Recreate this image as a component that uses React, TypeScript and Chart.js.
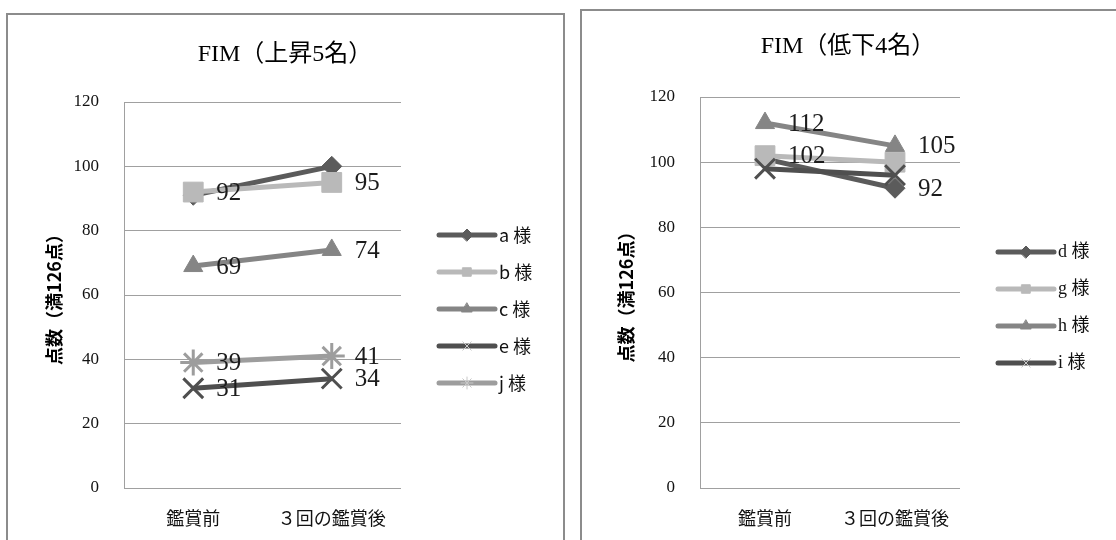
import React, { useEffect, useRef } from 'react';
import { Chart, registerables } from 'chart.js';
import { drawPoint } from 'chart.js/helpers';

Chart.register(...registerables);

// ---- data ----
const categories = ['鑑賞前', '３回の鑑賞後'];
const yTickValues = [0, 20, 40, 60, 80, 100, 120];
const yAxisTitle = '点数（満126点）';

// FIM（上昇5名）
const riseTitle = 'FIM（上昇5名）';
const riseNames = ['a 様', 'b 様', 'c 様', 'e 様', 'j 様'];
const riseA = [91, 100];
const riseB = [92, 95];
const riseC = [69, 74];
const riseE = [31, 34];
const riseJ = [39, 41];
// which points carry a value label
const riseShowA = [false, false];
const riseShowB = [true, true];
const riseShowC = [true, true];
const riseShowE = [true, true];
const riseShowJ = [true, true];

// FIM（低下4名）
const fallTitle = 'FIM（低下4名）';
const fallNames = ['d 様', 'g 様', 'h 様', 'i 様'];
const fallD = [101, 92];
const fallG = [102, 100];
const fallH = [112, 105];
const fallI = [98, 96];
const fallShowD = [false, true];
const fallShowG = [true, false];
const fallShowH = [true, true];
const fallShowI = [false, false];

// ---- series styles ----
type SeriesStyle = { color: string; marker: string; radius: number; markerWidth: number };
const diamond: SeriesStyle = { color: '#5b5b5b', marker: 'rectRot', radius: 10, markerWidth: 1 };
const square: SeriesStyle = { color: '#b9b9b9', marker: 'rect', radius: 14, markerWidth: 1 };
const triangle: SeriesStyle = { color: '#858585', marker: 'triangle', radius: 11, markerWidth: 1 };
const cross: SeriesStyle = { color: '#4f4f4f', marker: 'crossRot', radius: 14, markerWidth: 3 };
const star: SeriesStyle = { color: '#9d9d9d', marker: 'star', radius: 13, markerWidth: 3 };

const serif = '"Liberation Serif", "Noto Sans CJK JP"';
const gothic = '"Noto Sans CJK JP", "Noto Sans"';

// Value labels drawn to the right of each flagged point
const pointValueLabels = {
  id: 'pointValueLabels',
  afterDatasetsDraw(chart: any, _args: any, opts: any) {
    const { ctx } = chart;
    ctx.save();
    ctx.font = `${opts.size}px ${serif}`;
    ctx.fillStyle = opts.color;
    ctx.textAlign = 'left';
    ctx.textBaseline = 'middle';
    chart.data.datasets.forEach((ds: any, i: number) => {
      const meta = chart.getDatasetMeta(i);
      const flags: boolean[] = ds.showValue || [];
      meta.data.forEach((pt: any, j: number) => {
        if (!flags[j]) return;
        ctx.fillText(String(ds.data[j]), pt.x + opts.offset, pt.y + 1);
      });
    });
    ctx.restore();
  },
};

// Legend with a line sample and marker, placed to the right of the plot
const lineLegend = {
  id: 'lineLegend',
  afterDraw(chart: any, _args: any, opts: any) {
    const { ctx, chartArea } = chart;
    chart.data.datasets.forEach((ds: any, i: number) => {
      const y = opts.top + i * opts.gap;
      const x0 = chartArea.right + opts.offset;
      const x1 = x0 + opts.length;
      ctx.save();
      ctx.strokeStyle = ds.borderColor;
      ctx.lineWidth = 5;
      ctx.lineCap = 'round';
      ctx.beginPath();
      ctx.moveTo(x0, y);
      ctx.lineTo(x1, y);
      ctx.stroke();
      ctx.fillStyle = ds.pointBackgroundColor;
      ctx.strokeStyle = ds.markerLegendColor;
      ctx.lineWidth = 1;
      drawPoint(ctx, { pointStyle: ds.pointStyle, radius: opts.markerRadius, borderWidth: 1, rotation: 0 } as any, (x0 + x1) / 2, y);
      ctx.fillStyle = '#111';
      ctx.font = `${opts.fontSize}px ${opts.fontFamily}`;
      ctx.textAlign = 'left';
      ctx.textBaseline = 'middle';
      ctx.fillText(ds.label, x1 + opts.textGap, y);
      ctx.restore();
    });
  },
};

function makeDataset(label: string, values: number[], show: boolean[], style: SeriesStyle, idx: number, count: number) {
  return {
    label,
    data: values,
    showValue: show,
    borderColor: style.color,
    backgroundColor: style.color,
    borderWidth: 5,
    pointStyle: style.marker,
    pointRadius: style.radius,
    pointHoverRadius: style.radius,
    pointBackgroundColor: style.color,
    pointBorderColor: style.color,
    markerLegendColor: style.markerWidth > 1 ? '#c8c8c8' : style.color,
    pointBorderWidth: style.markerWidth,
    tension: 0,
    fill: false,
    order: count - idx,
  };
}

type PanelLayout = {
  left: number;
  top: number;
  width: number;
  height: number;
  plotLeft: number;
  plotRight: number;
  titleTop: number;
  titleBottom: number;
  xHeight: number;
  yTitlePad: number;
  legendTop: number;
  legendFont: string;
};

function makeConfig(title: string, datasets: any[], L: PanelLayout): any {
  const step = yTickValues[1] - yTickValues[0];
  return {
    type: 'line',
    data: { labels: categories, datasets },
    plugins: [pointValueLabels, lineLegend],
    options: {
      animation: false,
      responsive: false,
      events: [],
      layout: { padding: 0 },
      plugins: {
        legend: { display: false },
        tooltip: { enabled: false },
        title: {
          display: true,
          text: title,
          color: '#000',
          font: { family: serif, size: 24, weight: 'normal' },
          padding: { top: L.titleTop, bottom: L.titleBottom },
        },
        pointValueLabels: { size: 25, color: '#1c1c1c', offset: 23 },
        lineLegend: {
          top: L.legendTop,
          gap: 37,
          offset: 38,
          length: 56,
          textGap: 4,
          markerRadius: 6,
          fontSize: 18,
          fontFamily: L.legendFont,
        },
      },
      scales: {
        x: {
          type: 'category',
          offset: true,
          grid: { display: false },
          border: { display: false },
          ticks: {
            color: '#111',
            font: { family: gothic, size: 18 },
            padding: 11,
            maxRotation: 0,
            autoSkip: false,
          },
          afterFit: (s: any) => {
            s.height = L.xHeight;
          },
        },
        y: {
          min: yTickValues[0],
          max: yTickValues[yTickValues.length - 1],
          ticks: {
            stepSize: step,
            color: '#111',
            font: { family: serif, size: 17 },
            padding: 25,
          },
          grid: { color: '#a0a0a0', lineWidth: 1, drawTicks: false },
          border: { display: true, color: '#a0a0a0', width: 1 },
          title: {
            display: true,
            text: yAxisTitle,
            color: '#000',
            font: { family: gothic, size: 18, weight: 'bold' },
            padding: { top: L.yTitlePad, bottom: 0 },
          },
          afterFit: (s: any) => {
            s.width = L.plotLeft;
          },
        },
        legendSpace: {
          type: 'linear',
          axis: 'y',
          position: 'right',
          grid: { display: false },
          border: { display: false },
          ticks: { display: false },
          afterFit: (s: any) => {
            s.width = L.width - L.plotRight;
          },
        },
      },
    },
  };
}

function ChartPanel({ title, datasets, layout }: { title: string; datasets: any[]; layout: PanelLayout }) {
  const ref = useRef<HTMLCanvasElement>(null);
  useEffect(() => {
    const chart = new Chart(ref.current as HTMLCanvasElement, makeConfig(title, datasets, layout));
    return () => chart.destroy();
  }, []);
  return (
    <canvas
      ref={ref}
      width={layout.width}
      height={layout.height}
      style={{ position: 'absolute', left: layout.left, top: layout.top, width: layout.width, height: layout.height }}
    />
  );
}

const riseLayout: PanelLayout = {
  left: 8,
  top: 15,
  width: 554,
  height: 525,
  plotLeft: 116,
  plotRight: 393,
  titleTop: 25.8,
  titleBottom: 32.4,
  xHeight: 52,
  yTitlePad: 35,
  legendTop: 220,
  legendFont: gothic,
};

const fallLayout: PanelLayout = {
  left: 582,
  top: 11,
  width: 532,
  height: 529,
  plotLeft: 118,
  plotRight: 378,
  titleTop: 21.8,
  titleBottom: 35.4,
  xHeight: 52,
  yTitlePad: 33,
  legendTop: 241,
  legendFont: serif,
};

export default function App() {
  const riseSeries = [riseA, riseB, riseC, riseE, riseJ];
  const riseShow = [riseShowA, riseShowB, riseShowC, riseShowE, riseShowJ];
  const riseStyles = [diamond, square, triangle, cross, star];
  const riseDatasets = riseSeries.map((v, i) =>
    makeDataset(riseNames[i], v, riseShow[i], riseStyles[i], i, riseSeries.length)
  );

  const fallSeries = [fallD, fallG, fallH, fallI];
  const fallShow = [fallShowD, fallShowG, fallShowH, fallShowI];
  const fallStyles = [diamond, square, triangle, cross];
  const fallDatasets = fallSeries.map((v, i) =>
    makeDataset(fallNames[i], v, fallShow[i], fallStyles[i], i, fallSeries.length)
  );

  const frame: React.CSSProperties = {
    position: 'absolute',
    border: '2px solid #8c8c8c',
    boxSizing: 'border-box',
    background: '#fff',
  };

  return (
    <div style={{ position: 'absolute', left: 0, top: 0, width: 1116, height: 540, overflow: 'hidden', background: '#fff' }}>
      <div style={{ ...frame, left: 6, top: 13, width: 559, height: 600 }} />
      <div style={{ ...frame, left: 580, top: 9, width: 600, height: 600 }} />
      <ChartPanel title={riseTitle} datasets={riseDatasets} layout={riseLayout} />
      <ChartPanel title={fallTitle} datasets={fallDatasets} layout={fallLayout} />
    </div>
  );
}
